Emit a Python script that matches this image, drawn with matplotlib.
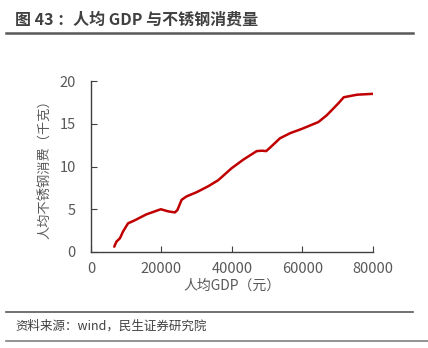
import matplotlib
matplotlib.use('Agg')
import matplotlib.pyplot as plt

plt.rcParams['font.family'] = ['Noto Sans CJK SC', 'DejaVu Sans']

# 人均GDP (元) and 人均不锈钢消费 (千克)
gdp = [6600, 7200, 8200, 9100, 10500, 12400, 15700, 19800, 21900, 23800,
       24500, 25700, 27100, 30000, 33300, 36100, 39900, 43200, 47000, 48500,
       49700, 51300, 53600, 56500, 59800, 64500, 66900, 70200, 71700, 75500, 80000]
steel = [0.62, 1.2, 1.6, 2.4, 3.35, 3.7, 4.4, 5.0, 4.75, 4.63,
         4.9, 6.1, 6.5, 7.0, 7.7, 8.4, 9.8, 10.8, 11.8, 11.85,
         11.8, 12.4, 13.3, 13.9, 14.4, 15.2, 16.0, 17.4, 18.1, 18.4, 18.5]

title = '图 43 ：人均 GDP 与不锈钢消费量'
source = '资料来源：wind，民生证券研究院'
gray = '#595959'

fig = plt.figure(figsize=(4.28, 3.48), dpi=100)
ax = fig.add_axes([0.2126, 0.2759, 0.6589, 0.4913])
ax.plot(gdp, steel, color='#C00000', linewidth=1.8, solid_capstyle='round')

ax.set_xlim(0, 80000)
ax.set_ylim(0, 20)
ax.set_xticks([0, 20000, 40000, 60000, 80000])
ax.set_yticks([0, 5, 10, 15, 20])
for s in ['top', 'right']:
    ax.spines[s].set_visible(False)
for s in ['left', 'bottom']:
    ax.spines[s].set_color('#404040')
    ax.spines[s].set_linewidth(1)
ax.tick_params(direction='in', length=4, color='#404040', labelcolor=gray, labelsize=10.5)
ax.tick_params(axis='y', pad=11)
ax.tick_params(axis='x', pad=7)
ax.set_xlabel('人均GDP（元）', fontsize=10, color=gray, labelpad=2)
ax.set_ylabel('人均不锈钢消费（千克）', fontsize=9.5, color=gray, labelpad=6)

fig.text(15/428, 1-20/348, title, fontsize=11.5, fontweight='bold', color='#404040',
         ha='left', va='center')
fig.add_artist(plt.Line2D([6/428, 413/428], [1-33/348, 1-33/348], color='#595959', linewidth=1.8))
fig.add_artist(plt.Line2D([6/428, 413/428], [1-312/348, 1-312/348], color='#595959', linewidth=1.2))
fig.add_artist(plt.Line2D([6/428, 428/428], [1-341/348, 1-341/348], color='#808080', linewidth=1.2))
fig.text(15/428, 1-326/348, source, fontsize=9, color='#404040', ha='left', va='center')

fig.savefig('out.png', dpi=100)
